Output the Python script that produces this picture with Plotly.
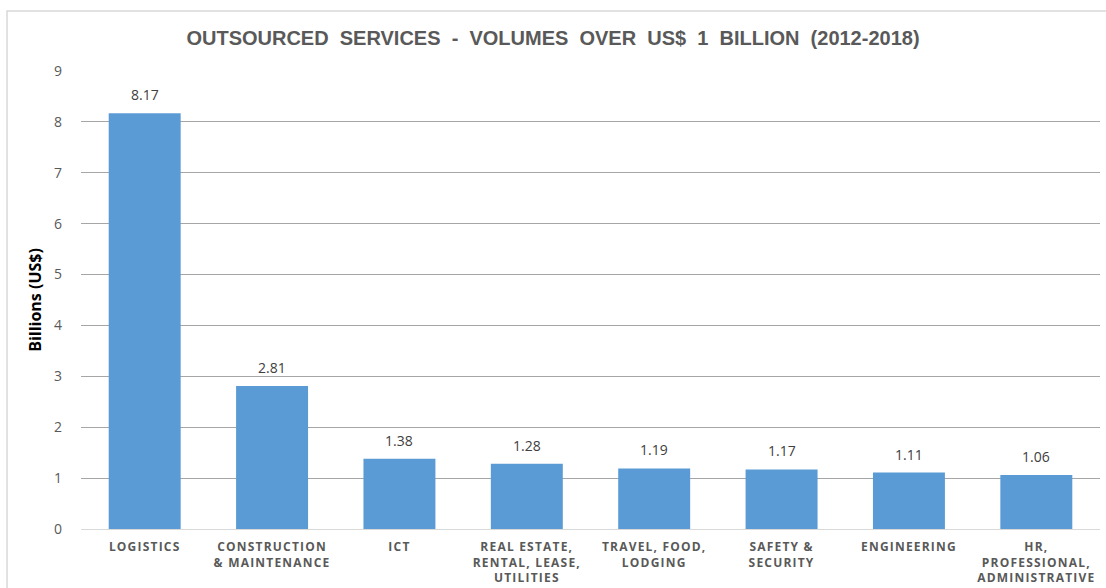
import plotly.graph_objects as go

categories = [
    "LOGISTICS",
    "CONSTRUCTION<br>& MAINTENANCE",
    "ICT",
    "REAL ESTATE,<br>RENTAL, LEASE,<br>UTILITIES",
    "TRAVEL, FOOD,<br>LODGING",
    "SAFETY &<br>SECURITY",
    "ENGINEERING",
    "HR,<br>PROFESSIONAL,<br>ADMINISTRATIVE",
]
values = [8.17, 2.81, 1.38, 1.28, 1.19, 1.17, 1.11, 1.06]
y_ticks = [0, 1, 2, 3, 4, 5, 6, 7, 8, 9]

fig = go.Figure(
    go.Bar(
        x=categories,
        y=values,
        marker=dict(color="#5B9BD5", line=dict(width=0)),
        width=0.565,
    )
)

for c, v in zip(categories, values):
    fig.add_annotation(
        x=c, y=v, text=f"{v:.2f}", showarrow=False,
        yanchor="bottom", yshift=7,
        font=dict(family="Open Sans, Calibri, sans-serif", size=14, color="#404040"),
    )

fig.update_layout(
    width=1106,
    height=588,
    paper_bgcolor="white",
    plot_bgcolor="white",
    margin=dict(l=81, r=6, t=71, b=59),
    showlegend=False,
    title=dict(
        text="OUTSOURCED  SERVICES  -  VOLUMES  OVER  US$  1  BILLION  (2012-2018)",
        x=0.5,
        xanchor="center",
        y=0.935,
        yanchor="middle",
        font=dict(family="Liberation Sans Narrow, Arial Narrow, sans-serif", size=20, color="#595959", weight="bold"),
    ),
    xaxis=dict(
        tickfont=dict(family="Open Sans, sans-serif", size=12, color="#595959", weight="bold"),
        showgrid=False,
        showline=False,
        ticks="",
        tickangle=0,
        ticklabelstandoff=9,
        automargin=False,
    ),
    yaxis=dict(
        range=[0, 9],
        tickvals=y_ticks,
        tickfont=dict(family="Open Sans, Calibri, sans-serif", size=14, color="#595959"),
        showgrid=True,
        gridcolor="#A6A6A6",
        gridwidth=1,
        zeroline=True,
        zerolinecolor="#D9D9D9",
        zerolinewidth=1,
        ticks="",
        ticklabelstandoff=18,
        automargin=False,
        title=dict(
            text="Billions (US$)",
            font=dict(family="Open Sans, Calibri, sans-serif", size=16, color="#000000", weight="bold"),
            standoff=8,
        ),
    ),
    shapes=[
        dict(
            type="rect",
            xref="paper",
            yref="paper",
            x0=-0.0726,
            x1=1.2,
            y0=-0.3,
            y1=1.131,
            line=dict(color="#D9D9D9", width=1.5),
            fillcolor="rgba(0,0,0,0)",
            layer="below",
        )
    ],
)

post = """
document.querySelectorAll('.xtick text').forEach(function(t){t.style.letterSpacing='1.2px';});
"""

fig.write_html("out.html", post_script=post)
